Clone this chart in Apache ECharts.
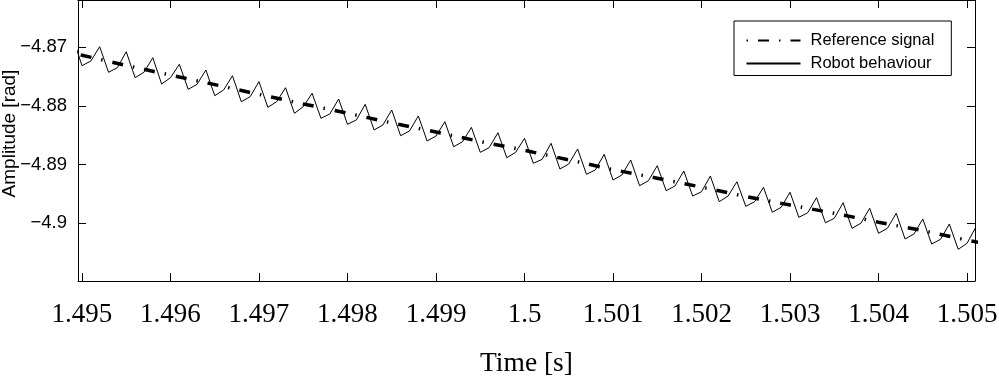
<!DOCTYPE html>
<html>
<head>
<meta charset="utf-8">
<script src="https://cdn.jsdelivr.net/npm/echarts@6/dist/echarts.min.js"></script>
<style>
  html, body { margin: 0; padding: 0; background: #fff; }
  #main { width: 999px; height: 381px; }
</style>
</head>
<body>
<div id="main"></div>
<script>
// time ticks and amplitude ticks
var xTicks = [1.495, 1.496, 1.497, 1.498, 1.499, 1.5, 1.501, 1.502, 1.503, 1.504, 1.505];
var yTicks = [-4.9, -4.89, -4.88, -4.87];
var yTickLabels = ['\u22124.9', '\u22124.89', '\u22124.88', '\u22124.87'];

// reference signal (read every 0.5 ms)
var refTime = [1.4945, 1.495, 1.4955, 1.496, 1.4965, 1.497, 1.4975, 1.498, 1.4985, 1.499, 1.4995,
  1.5, 1.5005, 1.501, 1.5015, 1.502, 1.5025, 1.503, 1.5035, 1.504, 1.5045, 1.505, 1.5055];
var refValue = [-4.86966, -4.87135, -4.87309, -4.87474, -4.87636, -4.87803, -4.87965, -4.88122, -4.8829, -4.88444, -4.88606,
  -4.88756, -4.88918, -4.89085, -4.89231, -4.89383, -4.89543, -4.89688, -4.89828, -4.89981, -4.90124, -4.90286, -4.90438];

// robot behaviour (sampled every 0.1 ms)
var robotTime = [1.4949,
  1.4950, 1.4951, 1.4952, 1.4953, 1.4954, 1.4955, 1.4956, 1.4957, 1.4958, 1.4959,
  1.4960, 1.4961, 1.4962, 1.4963, 1.4964, 1.4965, 1.4966, 1.4967, 1.4968, 1.4969,
  1.4970, 1.4971, 1.4972, 1.4973, 1.4974, 1.4975, 1.4976, 1.4977, 1.4978, 1.4979,
  1.4980, 1.4981, 1.4982, 1.4983, 1.4984, 1.4985, 1.4986, 1.4987, 1.4988, 1.4989,
  1.4990, 1.4991, 1.4992, 1.4993, 1.4994, 1.4995, 1.4996, 1.4997, 1.4998, 1.4999,
  1.5000, 1.5001, 1.5002, 1.5003, 1.5004, 1.5005, 1.5006, 1.5007, 1.5008, 1.5009,
  1.5010, 1.5011, 1.5012, 1.5013, 1.5014, 1.5015, 1.5016, 1.5017, 1.5018, 1.5019,
  1.5020, 1.5021, 1.5022, 1.5023, 1.5024, 1.5025, 1.5026, 1.5027, 1.5028, 1.5029,
  1.5030, 1.5031, 1.5032, 1.5033, 1.5034, 1.5035, 1.5036, 1.5037, 1.5038, 1.5039,
  1.5040, 1.5041, 1.5042, 1.5043, 1.5044, 1.5045, 1.5046, 1.5047, 1.5048, 1.5049,
  1.5050, 1.5051];
var robotValue = [-4.86847,
  -4.87314, -4.87234, -4.86990, -4.87426, -4.87348, -4.87075, -4.87518, -4.87426, -4.87177, -4.87626,
  -4.87518, -4.87290, -4.87716, -4.87631, -4.87387, -4.87825, -4.87728, -4.87484, -4.87927, -4.87842,
  -4.87586, -4.88023, -4.87927, -4.87689, -4.88125, -4.88013, -4.87784, -4.88210, -4.88137, -4.87881,
  -4.88312, -4.88239, -4.87972, -4.88410, -4.88324, -4.88069, -4.88507, -4.88427, -4.88171, -4.88597,
  -4.88512, -4.88268, -4.88694, -4.88609, -4.88364, -4.88790, -4.88711, -4.88456, -4.88882, -4.88790,
  -4.88551, -4.88977, -4.88909, -4.88636, -4.89074, -4.88989, -4.88733, -4.89165, -4.89091, -4.88824,
  -4.89262, -4.89177, -4.88921, -4.89359, -4.89274, -4.89018, -4.89444, -4.89364, -4.89108, -4.89535,
  -4.89461, -4.89194, -4.89632, -4.89535, -4.89291, -4.89710, -4.89632, -4.89386, -4.89812, -4.89727,
  -4.89471, -4.89898, -4.89819, -4.89563, -4.89990, -4.89915, -4.89649, -4.90085, -4.90000, -4.89744,
  -4.90170, -4.90085, -4.89829, -4.90267, -4.90182, -4.89927, -4.90353, -4.90273, -4.90012, -4.90443,
  -4.90341, -4.90063];

function pairs(xs, ys) {
  var out = [];
  for (var i = 0; i < xs.length; i++) out.push([xs[i], ys[i]]);
  return out;
}

var sans = '"Liberation Sans", Arial, sans-serif';
var serif = '"Liberation Serif", "Times New Roman", serif';

var myChart = echarts.init(document.getElementById('main'));
var option = {
  animation: false,
  backgroundColor: '#fff',
  grid: { left: 78, right: 24, top: 0, bottom: 100, containLabel: false, outerBoundsMode: 'none' },
  legend: {
    orient: 'vertical',
    left: 734,
    top: 21,
    padding: [11, 17, 3.5, 11.5],
    itemWidth: 54,
    itemHeight: 14,
    itemGap: 6,
    borderColor: '#000',
    borderWidth: 1,
    selectedMode: false,
    itemStyle: { opacity: 0, borderWidth: 0 },
    textStyle: { fontFamily: sans, fontSize: 16.5, color: '#000', lineHeight: 14, padding: [0, 0, 0, 5] },
    data: ['Reference signal', 'Robot behaviour']
  },
  xAxis: [
    {
      type: 'value',
      min: 1.494955,
      max: 1.50509,
      position: 'bottom',
      name: 'Time [s]',
      nameLocation: 'middle',
      nameGap: 69,
      nameMoveOverlap: false,
      nameTextStyle: { fontFamily: serif, fontSize: 27.5, color: '#000' },
      axisLine: { show: true, onZero: false, lineStyle: { color: '#000', width: 1 } },
      axisTick: { show: true, inside: true, length: 8, customValues: xTicks, lineStyle: { color: '#000' } },
      axisLabel: {
        show: true, margin: 20, customValues: xTicks,
        fontFamily: serif, fontSize: 27, color: '#000',
        formatter: function (v) { return String(+(+v).toFixed(3)); }
      },
      splitLine: { show: false }
    },
    {
      type: 'value',
      min: 1.494955,
      max: 1.50509,
      position: 'top',
      axisLine: { show: true, onZero: false, lineStyle: { color: '#000', width: 1 } },
      axisTick: { show: true, inside: true, length: 8, customValues: xTicks, lineStyle: { color: '#000' } },
      axisLabel: { show: false },
      splitLine: { show: false }
    }
  ],
  yAxis: [
    {
      type: 'value',
      min: -4.90983,
      max: -4.86194,
      position: 'left',
      name: 'Amplitude [rad]',
      nameLocation: 'middle',
      nameGap: 59,
      nameMoveOverlap: false,
      nameTextStyle: { fontFamily: sans, fontSize: 19, color: '#000', padding: [0, 0, 0, 14] },
      axisLine: { show: true, onZero: false, lineStyle: { color: '#000', width: 1 } },
      axisTick: { show: true, inside: true, length: 8, customValues: yTicks, lineStyle: { color: '#000' } },
      axisLabel: {
        show: true, margin: 11, customValues: yTicks,
        fontFamily: sans, fontSize: 18.5, color: '#000',
        formatter: function (v) {
          for (var i = 0; i < yTicks.length; i++) {
            if (Math.abs(yTicks[i] - v) < 1e-9) return yTickLabels[i];
          }
          return '';
        }
      },
      splitLine: { show: false }
    },
    {
      type: 'value',
      min: -4.90983,
      max: -4.86194,
      position: 'right',
      axisLine: { show: true, onZero: false, lineStyle: { color: '#000', width: 1 } },
      axisTick: { show: true, inside: true, length: 8, customValues: yTicks, lineStyle: { color: '#000' } },
      axisLabel: { show: false },
      splitLine: { show: false }
    }
  ],
  series: [
    {
      name: 'Reference signal',
      type: 'line',
      xAxisIndex: 0,
      yAxisIndex: 0,
      symbol: 'none',
      showSymbol: false,
      smooth: false,
      clip: true,
      z: 3,
      lineStyle: { color: '#000', width: 3.5, type: [11, 10, 1.5, 10], dashOffset: 21 },
      itemStyle: { color: '#000' },
      data: pairs(refTime, refValue)
    },
    {
      name: 'Robot behaviour',
      type: 'line',
      xAxisIndex: 0,
      yAxisIndex: 0,
      symbol: 'none',
      showSymbol: false,
      clip: true,
      z: 2,
      lineStyle: { color: '#000', width: 1 },
      itemStyle: { color: '#000' },
      data: pairs(robotTime, robotValue)
    }
  ]
};
myChart.setOption(option);
</script>
</body>
</html>
